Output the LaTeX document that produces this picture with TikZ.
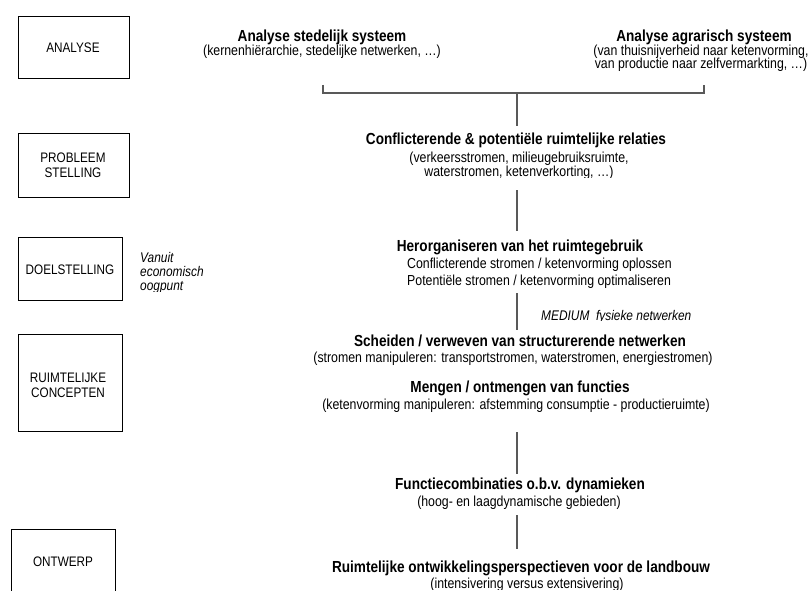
\documentclass[tikz,border=0pt]{standalone}
\usepackage{fontspec}
\setmainfont{Liberation Sans}[FakeStretch=0.85]
\begin{document}
\begin{tikzpicture}[x=1pt,y=-1pt,
  phase/.style={draw=black,line width=0.8pt},
  phaselabel/.style={anchor=base,inner sep=0pt,font=\fontsize{13.8}{14}\selectfont},
  headline/.style={anchor=base,inner sep=0pt,font=\fontsize{16}{17}\selectfont\bfseries},
  subline/.style={anchor=base,inner sep=0pt,font=\fontsize{14.5}{15}\selectfont},
  remark/.style={anchor=base west,inner sep=0pt,font=\fontsize{14}{14}\selectfont\itshape},
  link/.style={draw=black!65,line width=1.3pt}]
\useasboundingbox (0,0) rectangle (808,591);
\clip (0,0) rectangle (808,591);

% phase boxes on the left (text frames crop their last line)
\draw[phase] (18,16) rectangle (129,78);
\begin{scope}
  \clip (20,30) rectangle (127,51.5);
  \node[phaselabel] (analyse) at (73,53) {ANALYSE};
\end{scope}
\draw[phase] (18,133) rectangle (129,197);
\node[phaselabel] (probleem) at (73,162) {PROBLEEM};
\node[phaselabel] (stelling) at (73,177) {STELLING};
\draw[phase] (18,237) rectangle (122,300);
\node[phaselabel] (doel) at (70,274) {DOELSTELLING};
\node[remark] (vanuit1) at (140,262) {Vanuit};
\node[remark] (vanuit2) at (140,276) {economisch};
\begin{scope}
  \clip (135,280) rectangle (230,291.5);
  \node[remark] (vanuit3) at (140,290) {oogpunt};
\end{scope}
\draw[phase] (18,334) rectangle (122,431);
\node[phaselabel] (ruimt) at (68,382) {RUIMTELIJKE};
\node[phaselabel] (concept) at (68,397) {CONCEPTEN};
\draw[phase] (11,529) rectangle (115,600);
\node[phaselabel] (ontwerp) at (63,566) {ONTWERP};

% analysis of the two systems
\node[headline] (stad) at (322,42) {Analyse stedelijk systeem};
\node[subline] (stadsub) at (322,56) {(kernenhiërarchie, stedelijke netwerken, …)};
\node[headline] (agra) at (704,42) {Analyse agrarisch systeem};
\node[subline] (agrasub1) at (701,56) {(van thuisnijverheid naar ketenvorming,};
\node[subline] (agrasub2) at (701,69) {van productie naar zelfvermarkting, …)};

% problem statement
\node[headline] (conf) at (516,145) {Conflicterende \& potentiële ruimtelijke relaties};
\node[subline] (confsub1) at (519,162) {(verkeersstromen, milieugebruiksruimte,};
\begin{scope}
  \clip (400,165) rectangle (640,177);
  \node[subline] (confsub2) at (519,176) {waterstromen, ketenverkorting, …)};
\end{scope}

% objective
\node[headline] (herorg) at (520,251) {Herorganiseren van het ruimtegebruik};
\node[subline,anchor=base west] (herorg1) at (407,268) {Conflicterende stromen / ketenvorming oplossen};
\node[subline,anchor=base west] (herorg2) at (407,285) {Potentiële stromen / ketenvorming optimaliseren};
\begin{scope}
  \clip (535,305) rectangle (700,320.5);
  \node[remark] (medium) at (541,320) {MEDIUM\ \ fysieke netwerken};
\end{scope}

% spatial concepts
\node[headline] (scheid) at (520,346) {Scheiden / verweven van structurerende netwerken};
\node[subline] (scheidsub) at (513,362) {(stromen manipuleren: transportstromen, waterstromen, energiestromen)};
\node[headline] (meng) at (520,392) {Mengen / ontmengen van functies};
\node[subline] (mengsub) at (516,409) {(ketenvorming manipuleren: afstemming consumptie - productieruimte)};
\node[headline] (functie) at (520,489) {Functiecombinaties o.b.v. dynamieken};
\node[subline] (functiesub) at (519,506) {(hoog- en laagdynamische gebieden)};

% design
\node[headline] (landb) at (521,572) {Ruimtelijke ontwikkelingsperspectieven voor de landbouw};
\begin{scope}
  \clip (420,576) rectangle (640,589.5);
  \node[subline] (landbsub) at (527,588) {(intensivering versus extensivering)};
\end{scope}

% connector ends
\coordinate (bl) at (323,85);
\coordinate (br) at (704,85);
\coordinate (bm) at (517,93);
\coordinate (c1) at (517,126);
\coordinate (c2) at (517,190);
\coordinate (c3) at (517,231);
\coordinate (c4) at (517,293);
\coordinate (c5) at (517,330);
\coordinate (c6) at (517,432);
\coordinate (c7) at (517,474);
\coordinate (c8) at (517,515);
\coordinate (c9) at (517,549);

\draw[link] (bl) |- (bm) -| (br);
\draw[link] (bm) -- (c1);
\draw[link] (c2) -- (c3);
\draw[link] (c4) -- (c5);
\draw[link] (c6) -- (c7);
\draw[link] (c8) -- (c9);
\end{tikzpicture}
\end{document}
